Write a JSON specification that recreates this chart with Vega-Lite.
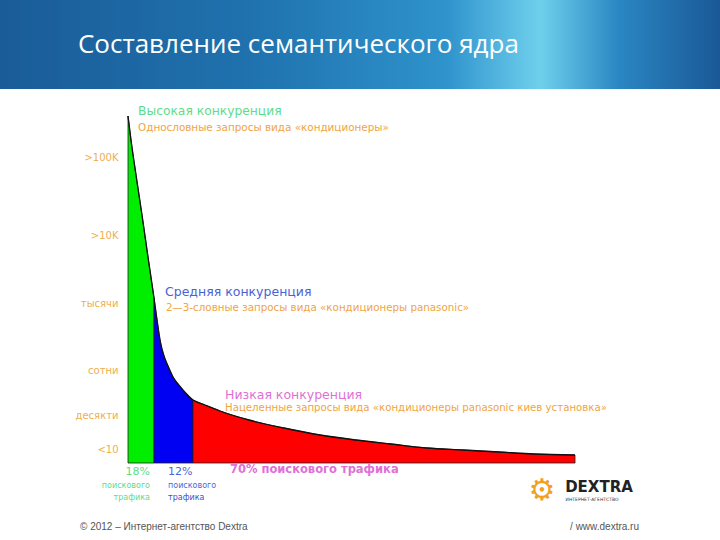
{
  "$schema": "https://vega.github.io/schema/vega-lite/v6.json",
  "width": 447,
  "height": 346,
  "autosize": {"type": "none"},
  "padding": {"left": 128, "top": 117, "right": 145, "bottom": 77},
  "background": "white",
  "config": {"view": {"stroke": null}, "text": {"font": "DejaVu Sans"}},
  "datasets": {
    "curve": [
      {"x": 0, "y": 347, "seg": "G"},
      {"x": 0.67, "y": 323, "seg": "G"},
      {"x": 1.79, "y": 288, "seg": "G"},
      {"x": 3.13, "y": 248, "seg": "G"},
      {"x": 4.47, "y": 206, "seg": "G"},
      {"x": 5.82, "y": 165, "seg": "G"},
      {"x": 5.82, "y": 165, "seg": "B"},
      {"x": 6.49, "y": 143, "seg": "B"},
      {"x": 7.16, "y": 123, "seg": "B"},
      {"x": 8.05, "y": 107, "seg": "B"},
      {"x": 8.95, "y": 97, "seg": "B"},
      {"x": 10.07, "y": 86, "seg": "B"},
      {"x": 11.19, "y": 79, "seg": "B"},
      {"x": 12.3, "y": 73, "seg": "B"},
      {"x": 14.54, "y": 63, "seg": "B"},
      {"x": 14.54, "y": 63, "seg": "R"},
      {"x": 17.2, "y": 58, "seg": "R"},
      {"x": 20.58, "y": 52, "seg": "R"},
      {"x": 27.07, "y": 43, "seg": "R"},
      {"x": 34.9, "y": 35, "seg": "R"},
      {"x": 42.95, "y": 28, "seg": "R"},
      {"x": 51.0, "y": 23, "seg": "R"},
      {"x": 58.84, "y": 19, "seg": "R"},
      {"x": 66.89, "y": 15, "seg": "R"},
      {"x": 74.94, "y": 13, "seg": "R"},
      {"x": 83.0, "y": 11, "seg": "R"},
      {"x": 90.83, "y": 9, "seg": "R"},
      {"x": 100, "y": 8, "seg": "R"}
    ],
    "one": [{}]
  },
  "layer": [
    {
      "data": {"name": "one"},
      "mark": {"type": "rect", "fill": {"gradient": "linear", "x1": 0, "y1": 0, "x2": 1, "y2": 0, "stops": [
        {"offset": 0, "color": "#1a5c98"},
        {"offset": 0.35, "color": "#1f72ae"},
        {"offset": 0.62, "color": "#2f93cc"},
        {"offset": 0.75, "color": "#6fd0ec"},
        {"offset": 0.86, "color": "#2a86c2"},
        {"offset": 1, "color": "#1a5896"}
      ]}},
      "encoding": {
        "x": {"datum": -28.64, "type": "quantitative", "scale": {"domain": [0, 100], "nice": false}, "axis": null},
        "x2": {"datum": 132.5},
        "y": {"datum": 464, "type": "quantitative", "scale": {"domain": [0, 346], "nice": false}},
        "y2": {"datum": 374}
      }
    },
    {
      "data": {"name": "curve"},
      "mark": {"type": "area", "stroke": "#1e1e1e", "strokeWidth": 0.8, "interpolate": "monotone"},
      "encoding": {
        "x": {"field": "x", "type": "quantitative", "scale": {"domain": [0, 100], "nice": false}, "axis": null},
        "y": {"field": "y", "type": "quantitative", "stack": null, "scale": {"domain": [0, 346], "nice": false},
          "axis": {"values": [14, 48, 93, 160, 228, 306], "title": null, "domain": false, "ticks": false, "grid": false,
            "labelExpr": "datum.value == 306 ? '>100K' : datum.value == 228 ? '>10K' : datum.value == 160 ? 'тысячи' : datum.value == 93 ? 'сотни' : datum.value == 48 ? 'десякти' : '<10'",
            "labelColor": "#f0ae50", "labelFont": "DejaVu Sans", "labelFontSize": 10, "labelPadding": 10}},
        "color": {"field": "seg", "type": "nominal", "scale": {"domain": ["G", "B", "R"], "range": ["#00ee00", "#0000f2", "#ff0000"]}, "legend": null}
      }
    },
    {
      "data": {"name": "curve"},
      "mark": {"type": "line", "color": "#111111", "strokeWidth": 1.3, "interpolate": "monotone"},
      "encoding": {
        "x": {"field": "x", "type": "quantitative"},
        "y": {"field": "y", "type": "quantitative"}
      }
    },
    {"data": {"name": "one"}, "mark": {"type": "text", "text": "Составление семантического ядра", "font": "Open Sans", "fontSize": 26, "color": "white", "align": "left", "baseline": "middle"},
      "encoding": {"x": {"datum": -11.2, "type": "quantitative"}, "y": {"datum": 418, "type": "quantitative"}}},
    {"data": {"name": "one"}, "mark": {"type": "text", "text": "Высокая конкуренция", "fontSize": 12.3, "color": "#5edc8a", "align": "left", "baseline": "middle"},
      "encoding": {"x": {"datum": 2.24, "type": "quantitative"}, "y": {"datum": 352, "type": "quantitative"}}},
    {"data": {"name": "one"}, "mark": {"type": "text", "text": "Однословные запросы вида «кондиционеры»", "fontSize": 10.4, "color": "#f0a442", "align": "left", "baseline": "middle"},
      "encoding": {"x": {"datum": 2.24, "type": "quantitative"}, "y": {"datum": 335, "type": "quantitative"}}},
    {"data": {"name": "one"}, "mark": {"type": "text", "text": "Средняя конкуренция", "fontSize": 12.5, "color": "#4a62d6", "align": "left", "baseline": "middle"},
      "encoding": {"x": {"datum": 8.28, "type": "quantitative"}, "y": {"datum": 171, "type": "quantitative"}}},
    {"data": {"name": "one"}, "mark": {"type": "text", "text": "2—3-словные запросы вида «кондиционеры panasonic»", "fontSize": 10.3, "color": "#f0a442", "align": "left", "baseline": "middle"},
      "encoding": {"x": {"datum": 8.5, "type": "quantitative"}, "y": {"datum": 155, "type": "quantitative"}}},
    {"data": {"name": "one"}, "mark": {"type": "text", "text": "Низкая конкуренция", "fontSize": 12.5, "color": "#e070d6", "align": "left", "baseline": "middle"},
      "encoding": {"x": {"datum": 21.7, "type": "quantitative"}, "y": {"datum": 68, "type": "quantitative"}}},
    {"data": {"name": "one"}, "mark": {"type": "text", "text": "Нацеленные запросы вида «кондиционеры panasonic киев установка»", "fontSize": 10.2, "color": "#f0a442", "align": "left", "baseline": "middle"},
      "encoding": {"x": {"datum": 21.7, "type": "quantitative"}, "y": {"datum": 55, "type": "quantitative"}}},
    {"data": {"name": "one"}, "mark": {"type": "text", "text": "18%", "fontSize": 11, "color": "#5edc8a", "align": "right", "baseline": "middle"},
      "encoding": {"x": {"datum": 4.92, "type": "quantitative"}, "y": {"datum": -9, "type": "quantitative"}}},
    {"data": {"name": "one"}, "mark": {"type": "text", "text": "поискового", "fontSize": 8, "color": "#5edc8a", "align": "right", "baseline": "middle"},
      "encoding": {"x": {"datum": 4.92, "type": "quantitative"}, "y": {"datum": -23, "type": "quantitative"}}},
    {"data": {"name": "one"}, "mark": {"type": "text", "text": "трафика", "fontSize": 8, "color": "#5edc8a", "align": "right", "baseline": "middle"},
      "encoding": {"x": {"datum": 4.92, "type": "quantitative"}, "y": {"datum": -35, "type": "quantitative"}}},
    {"data": {"name": "one"}, "mark": {"type": "text", "text": "12%", "fontSize": 11, "color": "#4a66d8", "align": "left", "baseline": "middle"},
      "encoding": {"x": {"datum": 8.95, "type": "quantitative"}, "y": {"datum": -9, "type": "quantitative"}}},
    {"data": {"name": "one"}, "mark": {"type": "text", "text": "поискового", "fontSize": 8, "color": "#4a66d8", "align": "left", "baseline": "middle"},
      "encoding": {"x": {"datum": 8.95, "type": "quantitative"}, "y": {"datum": -23, "type": "quantitative"}}},
    {"data": {"name": "one"}, "mark": {"type": "text", "text": "трафика", "fontSize": 8, "color": "#3a52c8", "align": "left", "baseline": "middle"},
      "encoding": {"x": {"datum": 8.95, "type": "quantitative"}, "y": {"datum": -35, "type": "quantitative"}}},
    {"data": {"name": "one"}, "mark": {"type": "text", "text": "70% поискового трафика", "fontSize": 11.5, "fontWeight": "bold", "color": "#e070d6", "align": "left", "baseline": "middle"},
      "encoding": {"x": {"datum": 22.8, "type": "quantitative"}, "y": {"datum": -7, "type": "quantitative"}}},
    {"data": {"name": "one"}, "mark": {"type": "text", "text": "⚙", "fontSize": 30, "color": "#f2a024", "align": "center", "baseline": "middle"},
      "encoding": {"x": {"datum": 92.6, "type": "quantitative"}, "y": {"datum": -28, "type": "quantitative"}}},
    {"data": {"name": "one"}, "mark": {"type": "text", "text": "DEXTRA", "fontSize": 15, "fontWeight": "bold", "color": "#222222", "align": "left", "baseline": "middle"},
      "encoding": {"x": {"datum": 97.8, "type": "quantitative"}, "y": {"datum": -24, "type": "quantitative"}}},
    {"data": {"name": "one"}, "mark": {"type": "text", "text": "ИНТЕРНЕТ-АГЕНТСТВО", "fontSize": 4.5, "color": "#333333", "align": "left", "baseline": "middle"},
      "encoding": {"x": {"datum": 97.9, "type": "quantitative"}, "y": {"datum": -37, "type": "quantitative"}}},
    {"data": {"name": "one"}, "mark": {"type": "text", "text": "© 2012 – Интернет-агентство Dextra", "font": "Liberation Sans", "fontSize": 10, "color": "#555555", "align": "left", "baseline": "middle"},
      "encoding": {"x": {"datum": -10.74, "type": "quantitative"}, "y": {"datum": -64, "type": "quantitative"}}},
    {"data": {"name": "one"}, "mark": {"type": "text", "text": "/  www.dextra.ru", "font": "Liberation Sans", "fontSize": 10, "color": "#555555", "align": "left", "baseline": "middle"},
      "encoding": {"x": {"datum": 98.9, "type": "quantitative"}, "y": {"datum": -64, "type": "quantitative"}}}
  ]
}
